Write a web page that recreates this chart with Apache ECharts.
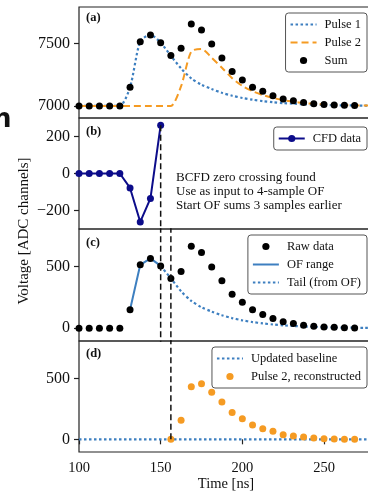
<!DOCTYPE html>
<html>
<head>
<meta charset="utf-8">
<script src="https://cdn.jsdelivr.net/npm/echarts@6/dist/echarts.min.js"></script>
<style>
html, body { margin: 0; padding: 0; background: #fff; }
#chart { width: 368px; height: 495px; }
</style>
</head>
<body>
<div id="chart"></div>
<script>
// sample times (6.25 ns sampling)
const sampleTimes = [100, 106.25, 112.5, 118.75, 125, 131.25, 137.5, 143.75, 150, 156.25, 162.5, 168.75, 175, 181.25,
    187.5, 193.75, 200, 206.25, 212.5, 218.75, 225, 231.25, 237.5, 243.75, 250, 256.25, 262.5, 268.75];
const curveTimes = sampleTimes.concat([275, 281.25]);

// (a) pulses and sum, ADC channels
const pulse1 = [7000, 7000, 7000, 7000, 7000, 7150, 7515, 7568, 7505, 7400, 7300, 7220, 7170, 7135, 7105, 7082, 7064,
    7050, 7039, 7030, 7023, 7018, 7014, 7011, 7008, 7006, 7005, 7004, 7003, 7003];
const pulse2 = [7000, 7000, 7000, 7000, 7000, 7000, 7000, 7000, 7000, 7000, 7158, 7435, 7455, 7385, 7305, 7222, 7160,
    7118, 7087, 7064, 7046, 7033, 7024, 7017, 7012, 7009, 7006, 7005, 7004, 7003];
const sumData = [7000, 7000, 7000, 7000, 7000, 7150, 7512, 7566, 7505, 7402, 7460, 7655, 7606, 7495, 7382, 7275, 7208,
    7150, 7117, 7082, 7056, 7042, 7027, 7017, 7011, 7008, 7005, 7003];

// (b) CFD data, first 9 samples
const cfdData = [0, 0, 0, 0, 0, -78, -262, -135, 261];

// (c) raw data, OF range, tail
const rawData = [0, 0, 0, 0, 0, 150, 515, 567, 506, 404, 460, 665, 615, 497, 386, 275, 210, 149, 112, 78, 52, 38, 24,
    15, 10, 7, 4, 2];
const ofRange = [150, 515, 567, 506]; // samples 5..8
const tailData = [506, 405, 300, 222, 170, 135, 105, 82, 64, 50, 39, 30, 23, 18, 14, 11, 8, 6, 5, 4, 3, 3]; // from 150 ns

// (d) baseline and reconstructed pulse 2 (from 156.25 ns)
const baselineTimes = [100, 281.25];
const baselineData = [0, 0];
const pulse2Recon = [0, 156, 431, 456, 385, 306, 219, 169, 117, 87, 66, 38, 27, 19, 11, 5, 3, 1, 0];

const xTicks = [100, 150, 200, 250];
const yTicksA = [7000, 7500];
const yTicksB = [-200, 0, 200];
const yTicksCD = [0, 500];
const cfdCrossing = 150;
const ofStart = 156.25;

const FONT = 'Liberation Serif';
const BLUE = '#3d7fc0';
const ORANGE = '#f59b23';

function pairs(xs, ys) {
    return ys.map((y, i) => [xs[i], y]);
}

const chart = echarts.init(document.getElementById('chart'));

const panels = [
    { top: 7, height: 111, min: 6904, max: 7790, ticks: yTicksA },
    { top: 118, height: 111, min: -300, max: 300, ticks: yTicksB },
    { top: 229, height: 112, min: -104, max: 806, ticks: yTicksCD },
    { top: 341, height: 111, min: -104, max: 806, ticks: yTicksCD },
];

const grids = panels.map(p => ({
    left: 79, width: 294, top: p.top, height: p.height,
    show: true, borderColor: '#222', borderWidth: 1.2, backgroundColor: 'transparent',
    outerBoundsMode: 'none',
}));

const xAxes = panels.map((p, i) => {
    let last = i === panels.length - 1;
    return {
        type: 'value', gridIndex: i, min: 100, max: 280,
        axisLine: { show: false },
        splitLine: { show: false },
        axisTick: { show: last, inside: false, length: 5, customValues: xTicks, lineStyle: { color: '#222', width: 1.2 } },
        axisLabel: {
            show: last, customValues: xTicks, margin: 9,
            fontFamily: FONT, fontSize: 14.5, color: '#111',
        },
        name: last ? 'Time [ns]' : '',
        nameLocation: 'middle', nameGap: 22,
        nameTextStyle: { fontFamily: FONT, fontSize: 14.5, color: '#111', verticalAlign: 'top' },
    };
});

const yAxes = panels.map((p, i) => ({
    type: 'value', gridIndex: i, min: p.min, max: p.max,
    axisLine: { show: false },
    splitLine: { show: false },
    axisTick: { show: true, length: 5, customValues: p.ticks, lineStyle: { color: '#222', width: 1.2 } },
    axisLabel: {
        customValues: p.ticks, margin: 9,
        fontFamily: FONT, fontSize: 16, color: '#111',
        formatter: v => String(v).replace('-', '\u2212'),
    },
}));

function vline(grid, x, y0, y1) {
    return {
        type: 'line', xAxisIndex: grid, yAxisIndex: grid,
        data: [[x, y0], [x, y1]], symbol: 'none', silent: true, z: 5,
        lineStyle: { color: '#111', width: 1.5, type: [6, 3.5] },
    };
}

const dotLine = (color) => ({
    symbol: 'circle', symbolSize: 7,
    itemStyle: { color: color },
    lineStyle: { width: 0, opacity: 0 },
});

const series = [
    // (a)
    {
        name: 'Pulse 1', type: 'line', xAxisIndex: 0, yAxisIndex: 0, data: pairs(curveTimes, pulse1),
        symbol: 'none', smooth: 0.25, z: 2,
        lineStyle: { color: BLUE, width: 2.2, type: [2.5, 2.5] }, itemStyle: { color: BLUE },
    },
    {
        name: 'Pulse 2', type: 'line', xAxisIndex: 0, yAxisIndex: 0, data: pairs(curveTimes, pulse2),
        symbol: 'none', smooth: 0.25, z: 3,
        lineStyle: { color: ORANGE, width: 2, type: [7, 4] }, itemStyle: { color: ORANGE },
    },
    Object.assign({ name: 'Sum', type: 'line', xAxisIndex: 0, yAxisIndex: 0, data: pairs(sampleTimes, sumData), z: 4 },
        dotLine('#000')),
    // (b)
    {
        name: 'CFD data', type: 'line', xAxisIndex: 1, yAxisIndex: 1, data: pairs(sampleTimes, cfdData),
        symbol: 'circle', symbolSize: 7, z: 4,
        lineStyle: { color: '#0c0c8a', width: 2 }, itemStyle: { color: '#0c0c8a' },
    },
    vline(1, cfdCrossing, cfdData[cfdData.length - 1], -1000),
    // (c)
    Object.assign({ name: 'Raw data', type: 'line', xAxisIndex: 2, yAxisIndex: 2, data: pairs(sampleTimes, rawData), z: 4 },
        dotLine('#000')),
    {
        name: 'OF range', type: 'line', xAxisIndex: 2, yAxisIndex: 2, data: pairs(sampleTimes.slice(5, 9), ofRange),
        symbol: 'none', z: 3,
        lineStyle: { color: BLUE, width: 2 }, itemStyle: { color: BLUE },
    },
    {
        name: 'Tail (from OF)', type: 'line', xAxisIndex: 2, yAxisIndex: 2,
        data: pairs(curveTimes.slice(8), tailData), symbol: 'none', smooth: 0.25, z: 3,
        lineStyle: { color: BLUE, width: 2.2, type: [2.5, 2.5] }, itemStyle: { color: BLUE },
    },
    vline(2, cfdCrossing, -1000, 2000),
    vline(2, ofStart, -1000, 2000),
    // (d)
    {
        name: 'Updated baseline', type: 'line', xAxisIndex: 3, yAxisIndex: 3, data: pairs(baselineTimes, baselineData),
        symbol: 'none', z: 3,
        lineStyle: { color: BLUE, width: 2.2, type: [2.5, 2.5] }, itemStyle: { color: BLUE },
    },
    Object.assign({ name: 'Pulse 2, reconstructed', type: 'line', xAxisIndex: 3, yAxisIndex: 3,
        data: pairs(sampleTimes.slice(9), pulse2Recon), z: 4 }, dotLine(ORANGE)),
    vline(3, ofStart, 0, 2000),
];

const legendBase = {
    orient: 'vertical', right: 1, itemWidth: 26, itemHeight: 9, itemGap: 5,
    padding: [5, 6, 5, 4], borderColor: '#555', borderWidth: 1, borderRadius: 3,
    backgroundColor: 'rgba(255,255,255,0.85)', selectedMode: false,
    textStyle: { fontFamily: FONT, fontSize: 12.5, color: '#111', padding: [0, 0, 0, 3] },
};
// plain line entries: hide the marker in the legend icon
const lineOnly = name => ({ name: name, itemStyle: { opacity: 0 } });

const legends = [
    Object.assign({}, legendBase, { top: 13, data: [lineOnly('Pulse 1'), lineOnly('Pulse 2'), 'Sum'] }),
    Object.assign({}, legendBase, { top: 127, data: ['CFD data'] }),
    Object.assign({}, legendBase, { top: 235, data: ['Raw data', lineOnly('OF range'), lineOnly('Tail (from OF)')] }),
    Object.assign({}, legendBase, { top: 347, data: [lineOnly('Updated baseline'), 'Pulse 2, reconstructed'] }),
];

const labelStyle = { fontFamily: FONT, fontSize: 12.5, fontWeight: 'bold', fill: '#111' };
const graphic = [
    { type: 'text', left: 86, top: 11, style: Object.assign({ text: '(a)' }, labelStyle) },
    { type: 'text', left: 86, top: 125, style: Object.assign({ text: '(b)' }, labelStyle) },
    { type: 'text', left: 86, top: 236, style: Object.assign({ text: '(c)' }, labelStyle) },
    { type: 'text', left: 86, top: 347, style: Object.assign({ text: '(d)' }, labelStyle) },
    {
        type: 'text', left: 176, top: 171,
        style: {
            text: 'BCFD zero crossing found\nUse as input to 4-sample OF\nStart OF sums 3 samples earlier',
            fontFamily: FONT, fontSize: 13, lineHeight: 14, fill: '#111',
        },
    },
    {
        type: 'text', x: 24, y: 231, rotation: Math.PI / 2,
        style: {
            text: 'Voltage [ADC channels]', fontFamily: FONT, fontSize: 15, fill: '#111',
            align: 'center', verticalAlign: 'middle',
        },
    },
    {
        type: 'text', x: -7, y: 107,
        style: { text: 'n', fontFamily: 'DejaVu Sans', fontSize: 26, fontWeight: 'bold', fill: '#111' },
    },
];

chart.setOption({
    animation: false,
    backgroundColor: '#fff',
    grid: grids,
    xAxis: xAxes,
    yAxis: yAxes,
    legend: legends,
    graphic: graphic,
    series: series,
});
</script>
</body>
</html>
